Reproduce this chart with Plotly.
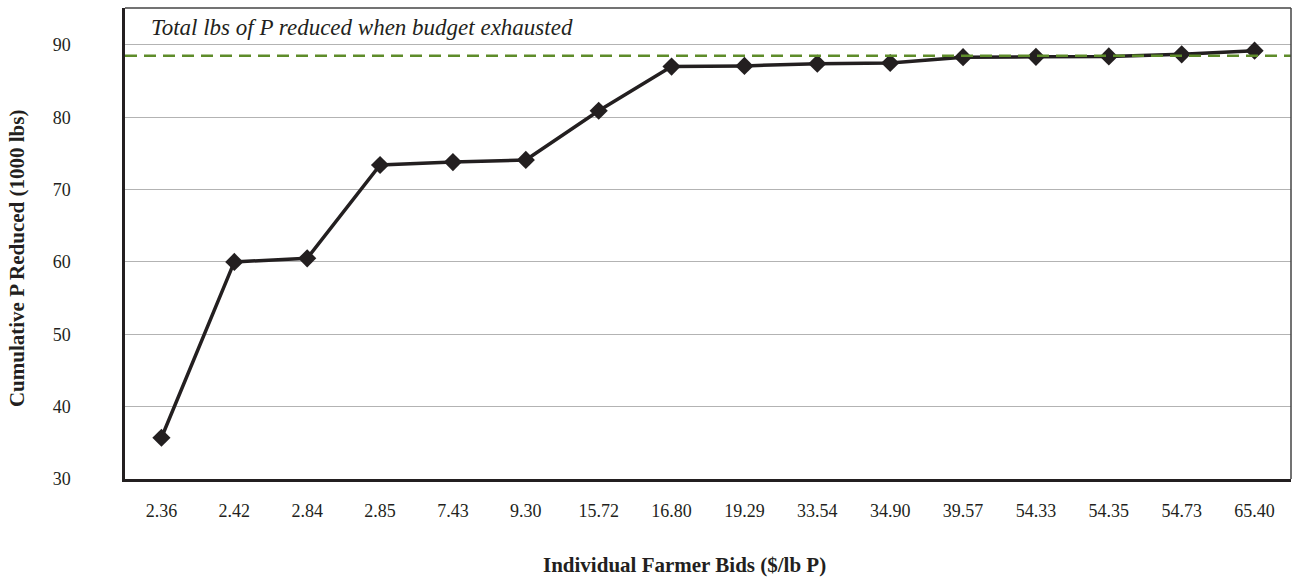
import plotly.graph_objects as go

bids = ["2.36", "2.42", "2.84", "2.85", "7.43", "9.30", "15.72", "16.80",
        "19.29", "33.54", "34.90", "39.57", "54.33", "54.35", "54.73", "65.40"]
cumulative_p = [35.7, 60.0, 60.5, 73.4, 73.8, 74.1, 80.9, 87.0,
                87.1, 87.4, 87.5, 88.3, 88.35, 88.4, 88.7, 89.2]
budget_total = 88.5
y_ticks = [30, 40, 50, 60, 70, 80, 90]
annotation_text = "Total lbs of P reduced when budget exhausted"
x_title = "Individual Farmer Bids ($/lb P)"
y_title = "Cumulative P Reduced (1000 lbs)"

FONT = "Liberation Serif"
INK = "#231f20"

fig = go.Figure()
fig.add_trace(go.Scatter(
    x=bids, y=cumulative_p, mode="lines+markers",
    line=dict(color=INK, width=3.5),
    marker=dict(symbol="diamond", size=14, color=INK),
    showlegend=False, cliponaxis=False,
))

fig.add_shape(type="line", xref="paper", yref="y", x0=0, x1=1,
              y0=budget_total, y1=budget_total,
              line=dict(color="#5e8c2a", width=2.5, dash="12px,7px"))
# frame top & right (thin)
fig.add_shape(type="line", xref="paper", yref="paper", x0=0, x1=1, y0=1, y1=1,
              line=dict(color="#444444", width=1.5))
fig.add_shape(type="line", xref="paper", yref="paper", x0=1, x1=1, y0=0, y1=1,
              line=dict(color="#444444", width=1.5))

fig.add_annotation(text="<i>" + annotation_text + "</i>", xref="paper", yref="paper",
                   x=0.021, y=0.99, xanchor="left", yanchor="top", showarrow=False,
                   font=dict(family=FONT, size=23, color=INK))

# axis titles
fig.add_annotation(text="<b>" + x_title + "</b>", xref="paper", yref="paper",
                   x=0.48, y=0, yshift=-86, xanchor="center", yanchor="middle",
                   showarrow=False, font=dict(family=FONT, size=21, color=INK))
fig.add_annotation(text="<b>" + y_title + "</b>", xref="paper", yref="paper",
                   x=0, xshift=-108, y=0.469, xanchor="center", yanchor="middle",
                   textangle=-90, showarrow=False,
                   font=dict(family=FONT, size=21, color=INK))

fig.update_xaxes(
    type="category", range=[-0.5, len(bids) - 0.5], automargin=False,
    showgrid=False, showline=True, linecolor=INK, linewidth=2.5,
    ticks="", ticklabelstandoff=14,
    tickfont=dict(family=FONT, size=18, color=INK),
)
fig.update_yaxes(
    range=[30, 95.1], tickvals=y_ticks, automargin=False,
    showgrid=True, gridcolor="#b3b3b3", gridwidth=1,
    showline=True, linecolor=INK, linewidth=2.5,
    zeroline=False, ticks="", ticklabelstandoff=48,
    tickfont=dict(family=FONT, size=18, color=INK),
)

fig.update_layout(
    width=1294, height=577,
    margin=dict(l=125, r=3, t=8, b=98),
    plot_bgcolor="white", paper_bgcolor="white",
)

fig.write_html("out.html", config={"displayModeBar": False},
               post_script="document.body.style.margin='0';document.body.style.overflow='hidden';")
